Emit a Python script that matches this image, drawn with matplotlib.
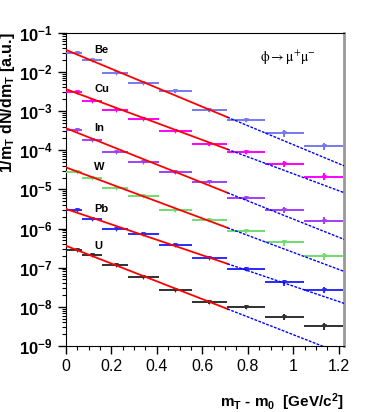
import matplotlib
matplotlib.use('Agg')
import matplotlib.pyplot as plt
import numpy as np

plt.rcParams['font.family'] = ['Liberation Sans', 'DejaVu Sans']
plt.rcParams['mathtext.fontset'] = 'custom'
plt.rcParams['mathtext.rm'] = 'Liberation Sans:bold'
plt.rcParams['mathtext.bf'] = 'Liberation Sans:bold'
plt.rcParams['mathtext.it'] = 'Liberation Sans:bold'
plt.rcParams['mathtext.default'] = 'rm'

# bins in mT - m0 [GeV/c^2]
bin_lo = [0.0, 0.073, 0.161, 0.273, 0.409, 0.554, 0.708, 0.875, 1.047]
bin_hi = [0.073, 0.161, 0.273, 0.409, 0.554, 0.708, 0.875, 1.047, 1.22]
bin_x = [0.047, 0.117, 0.22, 0.34, 0.48, 0.63, 0.79, 0.96, 1.135]
rel_err = [0.04, 0.04, 0.05, 0.06, 0.08, 0.10, 0.12, 0.18, 0.20]

nuclei = ['Be', 'Cu', 'In', 'W', 'Pb', 'U']
colors = ['#7878f0', '#ff00ff', '#a040f8', '#70dd70', '#2a2aff', '#303030']
be = [2.98e-2, 2.01e-2, 9.5e-3, 5.1e-3, 3.2e-3, 1.07e-3, 5.9e-4, 2.7e-4, 1.29e-4]
cu = [3.07e-3, 1.84e-3, 1.07e-3, 6.4e-4, 3.16e-4, 1.45e-4, 8.9e-5, 4.5e-5, 2.12e-5]
in_ = [3.3e-4, 1.83e-4, 8.7e-5, 5.1e-5, 2.7e-5, 1.58e-5, 6.1e-6, 3.0e-6, 1.6e-6]
w = [2.7e-5, 1.93e-5, 1.07e-5, 6.6e-6, 2.9e-6, 1.66e-6, 8.6e-7, 4.4e-7, 1.95e-7]
pb = [3.0e-6, 1.74e-6, 1.0e-6, 7.1e-7, 3.84e-7, 1.82e-7, 9.5e-8, 4.2e-8, 2.75e-8]
u = [2.75e-7, 2.1e-7, 1.17e-7, 5.9e-8, 2.75e-8, 1.35e-8, 9.9e-9, 5.5e-9, 3.2e-9]
data = [be, cu, in_, w, pb, u]

# exponential fits: value at mT-m0 = 0 and slope in decades per GeV
fit_a = [3.62e-2, 3.6e-3, 3.63e-4, 3.63e-5, 3.16e-6, 3.63e-7]
fit_slope = [-2.42, -2.16, -2.32, -2.17, -1.97, -2.27]
fit_end = 0.71
x_max = 1.223

fig = plt.figure(figsize=(3.66, 4.12), dpi=100)
ax = fig.add_axes([0.180, 0.160, 0.760, 0.761])

xs_red = np.linspace(0, fit_end, 50)
xs_blue = np.linspace(fit_end, x_max, 50)
for i in range(len(nuclei)):
    y = np.array(data[i])
    xerr = [np.array(bin_x) - np.array(bin_lo), np.array(bin_hi) - np.array(bin_x)]
    ax.errorbar(bin_x, y, xerr=xerr, yerr=y * np.array(rel_err), fmt='v',
                color=colors[i], ms=3.5, mew=0, elinewidth=1.4, capsize=0, zorder=3)
    ax.plot(xs_red, fit_a[i] * 10 ** (fit_slope[i] * xs_red), color='#ff0000', lw=1.3, zorder=4)
    ax.plot(xs_blue, fit_a[i] * 10 ** (fit_slope[i] * xs_blue), color='#0000ff', lw=1.0,
            ls=(0, (2, 1)), zorder=4)
    ax.text(0.125, fit_a[i], nuclei[i], fontsize=8, fontweight='bold', va='center', ha='left')

ax.text(0.853, 2.26e-2, r'$\phi \rightarrow \mu^{+}\mu^{-}$', math_fontfamily='stix',
        fontsize=10, va='center', ha='left')

ax.set_yscale('log')
ax.set_xlim(0, x_max)
ax.set_ylim(1e-9, 1e-1)
ax.set_xticks([0, 0.2, 0.4, 0.6, 0.8, 1.0, 1.2])
ax.set_xticklabels(['0', '0.2', '0.4', '0.6', '0.8', '1', '1.2'])
ax.set_xticks(np.arange(0, 1.22, 0.05), minor=True)
ax.set_yticks(10.0 ** np.arange(-9, 0))
ax.set_yticklabels([r'$10^{%d}$' % e for e in range(-9, 0)])
ax.tick_params(axis='both', which='major', labelsize=12, direction='out', length=6, width=1)
ax.tick_params(axis='x', which='major', labelsize=11.5)
ax.tick_params(axis='both', which='minor', direction='out', length=3, width=0.8)
ax.tick_params(axis='y', which='minor', labelleft=False)
ax.spines['right'].set_color('#999999')
ax.spines['right'].set_linewidth(2)

ax.set_xlabel(r'$m_{T}$ - $m_{0}$  [GeV/c$^{2}$]', fontsize=11, fontweight='bold', loc='right', labelpad=12)
ax.set_ylabel(r'1/$m_{T}$ dN/d$m_{T}$ [a.u.]', fontsize=11.5, fontweight='bold', loc='top', labelpad=1)

fig.savefig('out.png', dpi=100)
